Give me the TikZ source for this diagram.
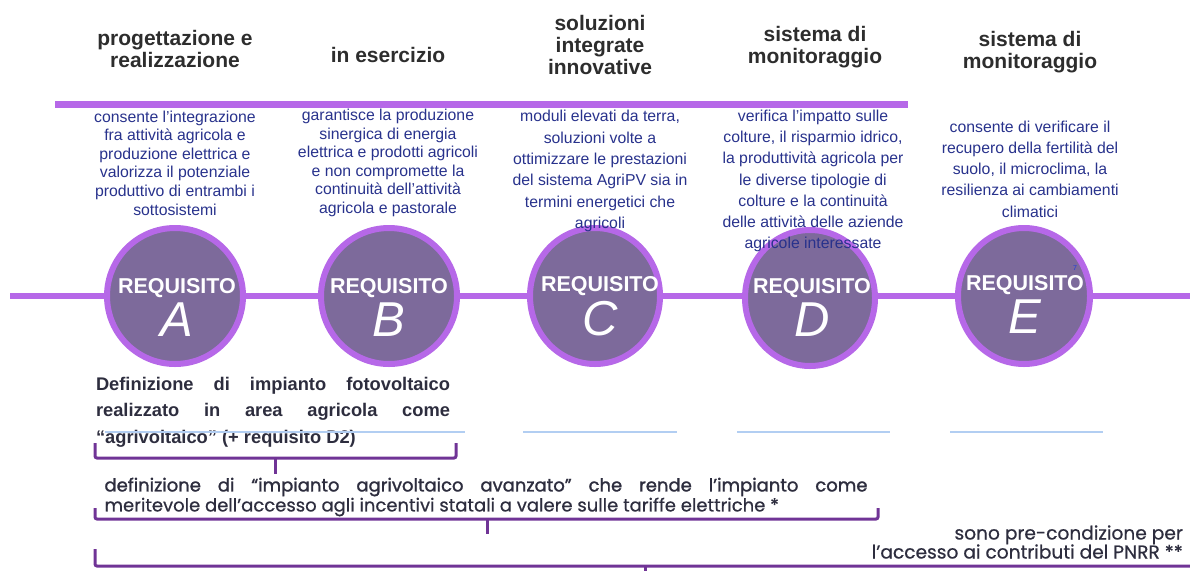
\documentclass[tikz,border=0pt]{standalone}
\usepackage{fontspec}
\setmainfont{Liberation Sans}
\newfontfamily\gothicfont[FakeBold=0.6]{Poppins}
\newfontfamily\gothicheavy[FakeBold=1.4]{Poppins}
\usepackage{tikz}
\usetikzlibrary{positioning, shapes.geometric}
\definecolor{hdrgray}{RGB}{45, 45, 45}
\definecolor{descblue}{RGB}{40, 50, 140}
\definecolor{barpurple}{RGB}{182, 104, 232}
\definecolor{circfill}{RGB}{125, 106, 155}
\definecolor{bracepurple}{RGB}{112, 52, 150}
\definecolor{lineblue}{RGB}{178, 206, 242}
\definecolor{bodygray}{RGB}{45, 45, 62}
\definecolor{notblue}{RGB}{30, 60, 220}
\newcommand{\fsz}[2]{\fontsize{#1}{#2}\selectfont}

\begin{document}
\begin{tikzpicture}[
        x=1pt, y=-1pt,
        header/.style={font=\bfseries\fsz{21}{22}, text=hdrgray, align=center, inner sep=0},
        desc/.style={font=\fsz{15.8}{18.6}, text=descblue, align=center, inner sep=0},
        descwide/.style={desc, font=\fsz{15.8}{21.3}},
        reqbox/.style={ellipse, draw=barpurple, line width=6pt, fill=circfill, inner sep=0, minimum height=136pt},
        reqword/.style={font=\bfseries\fsz{21.5}{22}, text=white, inner sep=0},
        reqletter/.style={font=\itshape\fsz{49}{49}, text=white, inner sep=0},
        bracket/.style={draw=bracepurple, line width=3pt, rounded corners=2pt},
        thinline/.style={draw=lineblue, line width=1.2pt}
    ]
        \useasboundingbox (0,0) rectangle (1190,570);

        % Headers
        \node[header] (hdrA) at (175,49) {progettazione e\\ realizzazione};
        \node[header] (hdrB) at (388,55) {in esercizio};
        \node[header] (hdrC) at (600,45) {soluzioni\\ integrate\\ innovative};
        \node[header] (hdrD) at (815,47) {sistema di\\ monitoraggio};
        \node[header] (hdrE) at (1030,52) {sistema di\\ monitoraggio};

        % Top bar
        \coordinate (barW) at (55,104);
        \coordinate (barE) at (908,104);
        \draw[barpurple, line width=7pt] (barW) -- (barE);

        % Timeline
        \coordinate (lineW) at (10,296);
        \coordinate (lineE) at (1190,296);
        \draw[barpurple, line width=6pt] (lineW) -- (lineE);

        % Requisiti
        \node[reqbox, minimum width=136pt] (reqA) at (175,296) {};
        \node[reqbox, minimum width=136pt] (reqB) at (389,296) {};
        \node[reqbox, minimum width=130pt] (reqC) at (595,296) {};
        \node[reqbox, minimum width=130pt] (reqD) at (810,298) {};
        \node[reqbox, minimum width=132pt] (reqE) at (1024,296) {};

        \node[reqword] (wordA) at (177,288) {REQUISITO};
        \node[reqletter, below=5pt of wordA] (letA) {A};
        \node[reqword] (wordB) at (389,288) {REQUISITO};
        \node[reqletter, below=5pt of wordB] (letB) {B};
        \node[reqword] (wordC) at (600,286) {REQUISITO};
        \node[reqletter, below=5pt of wordC] (letC) {C};
        \node[reqword] (wordD) at (812,288) {REQUISITO};
        \node[reqletter, below=5pt of wordD] (letD) {D};
        \node[reqword] (wordE) at (1025,285) {REQUISITO};
        \node[reqletter, below=5pt of wordE] (letE) {E};
        \node[font=\fsz{7}{7}, text=notblue, inner sep=0] (noteE) at (1075,268) {7};

        % Descriptions
        \node[desc] (descA) at (175,163) {consente l’integrazione\\ fra attività agricola e\\ produzione elettrica e\\ valorizza il potenziale\\ produttivo di entrambi i\\ sottosistemi};
        \node[desc] (descB) at (388,163) {garantisce la produzione\\ sinergica di energia\\ elettrica e prodotti agricoli\\ e non compromette la\\ continuità dell’attività\\ agricola e pastorale};
        \node[descwide] (descC) at (600,171) {moduli elevati da terra,\\ soluzioni volte a\\ ottimizzare le prestazioni\\ del sistema AgriPV sia in\\ termini energetici che\\ agricoli};
        \node[descwide] (descD) at (813,181) {verifica l’impatto sulle\\ colture, il risparmio idrico,\\ la produttività agricola per\\ le diverse tipologie di\\ colture e la continuità\\ delle attività delle aziende\\ agricole interessate};
        \node[descwide] (descE) at (1030,169) {consente di verificare il\\ recupero della fertilità del\\ suolo, il microclima, la\\ resilienza ai cambiamenti\\ climatici};

        % Definitions
        \node[font=\bfseries\fsz{18.3}{26.5}, text=bodygray, align=left, inner sep=0] (defAgri) at (273,412)
            {\makebox[354pt][s]{Definizione di impianto fotovoltaico}\\ \makebox[354pt][s]{realizzato in area agricola come}\\ “agrivoltaico” (+ requisito D2)};
        \draw[thinline] (105,432) -- (465,432);
        \draw[thinline] (523,432) -- (677,432);
        \draw[thinline] (737,432) -- (890,432);
        \draw[thinline] (950,432) -- (1103,432);

        \draw[bracket] (95,443) -- (95,458) -- (456,458) -- (456,443);
        \draw[bracket] (275,458) -- (275,474);

        \node[font=\gothicfont\fsz{18}{20}, text=bodygray, align=left, inner sep=0] (defAvz) at (486,497)
            {\makebox[763pt][s]{\gothicheavy definizione di “impianto agrivoltaico avanzato” che rende l’impianto come}\\ meritevole dell’accesso agli incentivi statali a valere sulle tariffe elettriche *};
        \draw[bracket] (95,508) -- (95,519) -- (878,519) -- (878,508);
        \draw[bracket] (487,519) -- (487,534);

        \node[font=\gothicfont\fsz{18.6}{19}, text=bodygray, align=right, inner sep=0, anchor=east] (defPnrr) at (1183,542)
            {sono pre-condizione per\\ l’accesso ai contributi del PNRR **};
        \draw[bracket] (95,549) -- (95,566) -- (1192,566);
        \draw[bracket] (645,566) -- (645,572);
    \end{tikzpicture}
\end{document}
